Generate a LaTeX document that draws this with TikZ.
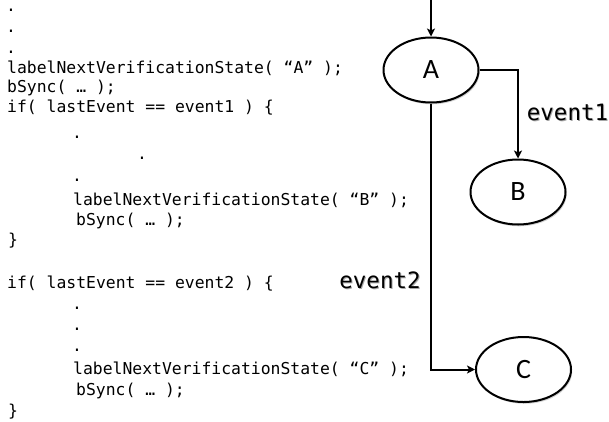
\documentclass[tikz,border=0pt]{standalone}
\usepackage{fontspec}
\newfontfamily\codefont{DejaVu Sans Mono}
\newfontfamily\labfont{Carlito}
\usetikzlibrary{arrows.meta,shapes.geometric,shadows}
\tikzset{
  code/.style={anchor=base west,inner sep=0pt,font=\codefont\fontsize{16.4}{18}\selectfont},
  cdot/.style={anchor=base,inner sep=0pt,font=\codefont\fontsize{16.4}{18}\selectfont},
  state/.style={ellipse,draw,line width=2pt,minimum width=95pt,minimum height=65pt,inner sep=0pt,
    fill=white,font=\labfont\fontsize{28}{30}\selectfont,
    drop shadow={shadow xshift=1.2pt,shadow yshift=-1.8pt,opacity=0.35}},
  evt/.style={inner sep=0pt,font=\codefont\fontsize{22.5}{26}\selectfont},
  evtshadow/.style={evt,text=black!35},
  arr/.style={line width=2pt,-{Stealth[length=8pt,width=8pt,inset=2pt]}}
}
\begin{document}
\begin{tikzpicture}[x=1pt,y=-1pt]
\useasboundingbox (0,0) rectangle (609,421);
% code lines
\node[cdot] (d1) at (11,11) {.};
\node[cdot] (d2) at (11,32) {.};
\node[cdot] (d3) at (11,53) {.};
\node[code] (l4) at (7,73) {labelNextVerificationState( “A” );};
\node[code] (l5) at (7,92) {bSync( … );};
\node[code] (l6) at (7,112) {if( lastEvent == event1 ) \{};
\node[cdot] (d7) at (77,138) {.};
\node[cdot] (d8) at (142,159) {.};
\node[cdot] (d9) at (77,181) {.};
\node[code] (l10) at (73,205) {labelNextVerificationState( “B” );};
\node[code] (l11) at (76,225) {bSync( … );};
\node[code] (l12) at (8,245) {\}};
\node[code] (l13) at (7,288) {if( lastEvent == event2 ) \{};
\node[cdot] (d14) at (77,309) {.};
\node[cdot] (d15) at (77,330) {.};
\node[cdot] (d16) at (77,351) {.};
\node[code] (l17) at (73,374) {labelNextVerificationState( “C” );};
\node[code] (l18) at (76,395) {bSync( … );};
\node[code] (l19) at (8,416) {\}};
% states
\node[state] (A) at (431,70) {A};
\node[state] (B) at (518,192) {B};
\node[state] (C) at (523.5,369.5) {C};
\coordinate (top) at (431,0);
% connectors
\draw[arr] (top) -- (A.north);
\draw[arr] (A.east) -| (B.north);
\draw[arr] (A.south) |- (C.west);
% labels
\node[evtshadow] (e1s) at (568.5,113.5) {event1};
\node[evt] (e1) at (567.5,112) {event1};
\node[evtshadow] (e2s) at (381,281.5) {event2};
\node[evt] (e2) at (380,280) {event2};
\end{tikzpicture}
\end{document}
